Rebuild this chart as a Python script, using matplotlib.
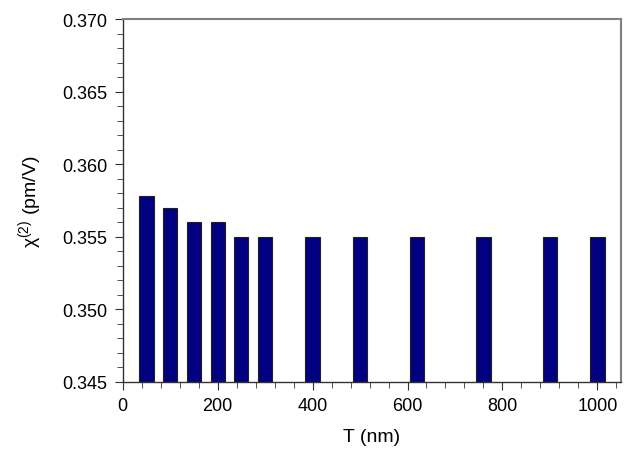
import matplotlib
matplotlib.use('Agg')
import matplotlib.pyplot as plt
from matplotlib.ticker import MultipleLocator

plt.rcParams['font.family'] = ['Liberation Sans', 'DejaVu Sans']

# 数据
T = [50, 100, 150, 200, 250, 300, 400, 500, 620, 760, 900, 1000]
chi2 = [0.3578, 0.3570, 0.3560, 0.3560, 0.3550, 0.3550,
        0.3550, 0.3550, 0.3550, 0.3550, 0.3550, 0.3550]

fig = plt.figure(figsize=(6.41, 4.6), dpi=100)
ax = fig.add_axes([0.1914, 0.1674, 0.969 - 0.1914, 0.9565 - 0.1674])

ax.bar(T, chi2, width=30, color='#000080', edgecolor='#222222', linewidth=0.8)

ax.set_xlim(0, 1050)
ax.set_ylim(0.345, 0.370)
ax.xaxis.set_major_locator(MultipleLocator(200))
ax.xaxis.set_minor_locator(MultipleLocator(40))
ax.yaxis.set_major_locator(MultipleLocator(0.005))
ax.yaxis.set_minor_locator(MultipleLocator(0.001))
ax.yaxis.set_major_formatter(plt.FormatStrFormatter('%.3f'))

ax.tick_params(which='both', direction='out', top=False, right=False,
               labelsize=13, color='#333333')
ax.tick_params(which='major', length=6, pad=5)
ax.tick_params(which='minor', length=4)

for s in ['top', 'right']:
    ax.spines[s].set_color('#808080')
    ax.spines[s].set_linewidth(1.5)
for s in ['left', 'bottom']:
    ax.spines[s].set_color('#333333')
    ax.spines[s].set_linewidth(1.0)

ax.set_xlabel('T (nm)', fontsize=14, labelpad=10)
ax.set_ylabel(r'χ$^{\mathregular{(2)}}$ (pm/V)', fontsize=14, labelpad=12)

fig.savefig('out.png', dpi=100)
